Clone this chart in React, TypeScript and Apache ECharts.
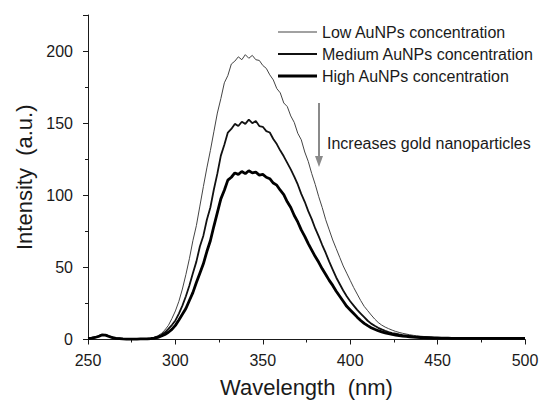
import React, { useEffect, useRef } from "react";
import * as echarts from "echarts";

// Sampling grid (nm), 250..500 every 2 nm
const wavelengths: number[] = Array.from({ length: 126 }, (_, i) => 250 + 2 * i);

const lowConc: number[] = [
  1.0, 1.2, 1.6, 2.4, 3.6, 3.4, 2.4, 1.5, 1.0, 0.8,
  0.6, 0.5, 0.5, 0.4, 0.5, 0.5, 0.6, 0.7, 1.0, 1.6,
  2.6, 4.2, 6.6, 9.8, 14.5, 19.8, 26.5, 35, 45, 56,
  68.5, 79, 92.5, 106, 119, 131, 144, 157, 167, 178,
  183, 191, 193, 196, 194, 197.5, 195, 197, 194, 193.5,
  190, 188, 183.5, 180, 174, 171, 164, 161.5, 155, 150.5,
  143, 138.5, 130, 123.5, 115, 107.5, 99, 91.5, 83, 76,
  69, 63, 57, 51, 46, 41, 36, 31.5, 27, 23,
  20, 17, 14.2, 11.8, 10, 8.6, 7.5, 6.5, 5.6, 4.9,
  4.3, 3.8, 3.3, 2.9, 2.6, 2.3, 2.1, 1.9, 1.7, 1.6,
  1.5, 1.4, 1.3, 1.2, 1.2, 1.1, 1.0, 1.0, 1.0, 1.0,
  1.0, 1.0, 1.0, 1.0, 1.0, 1.0, 1.0, 1.0, 1.0, 1.0,
  1.0, 1.0, 1.0, 1.0, 1.0, 1.0,
];

const mediumConc: number[] = [
  0.9, 1.1, 1.5, 2.3, 3.4, 3.2, 2.3, 1.4, 0.9, 0.7,
  0.5, 0.4, 0.4, 0.4, 0.4, 0.5, 0.5, 0.6, 0.8, 1.3,
  2.0, 3.3, 5.0, 7.3, 10, 13.2, 18, 23.5, 30, 37.5,
  46, 54, 64.5, 72, 83, 91.5, 104, 115, 127.5, 135,
  143.5, 146, 149.5, 148, 151, 149.5, 152.5, 150, 151.5, 148,
  147.5, 144.5, 143.5, 139, 135.5, 131, 127, 122.5, 118, 113,
  107.5, 101, 95.5, 89, 83.5, 77, 71.5, 65.5, 60, 54,
  48.5, 43, 38.5, 34, 30, 26.5, 23.5, 20.5, 18, 15.5,
  13, 11, 9.5, 8.1, 7, 6, 5.2, 4.5, 4, 3.5,
  3.1, 2.8, 2.5, 2.2, 2.0, 1.8, 1.7, 1.5, 1.4, 1.3,
  1.2, 1.1, 1.1, 1.0, 1.0, 1.0, 0.9, 0.9, 0.9, 0.9,
  0.9, 0.9, 0.9, 0.9, 0.9, 0.9, 0.9, 0.9, 0.9, 0.9,
  0.9, 0.9, 0.9, 0.9, 0.9, 0.9,
];

const highConc: number[] = [
  0.8, 1.0, 1.4, 2.1, 3.1, 3.0, 2.1, 1.3, 0.8, 0.6,
  0.4, 0.3, 0.3, 0.3, 0.3, 0.4, 0.4, 0.5, 0.6, 1.0,
  1.5, 2.4, 3.5, 5, 7, 9.8, 13.5, 17.5, 21.5, 27,
  32.5, 39.5, 46, 52.5, 61, 68.5, 78.5, 88, 97.5, 103.5,
  110.5, 112.5, 115.5, 114.5, 116.5, 115, 117, 115.5, 116, 114,
  114.5, 112.5, 111.5, 108.5, 107, 103.5, 100.5, 95.5, 91.5, 86,
  81.5, 76, 71.5, 66.5, 62, 57.5, 53.5, 49, 45, 41,
  37.5, 33.5, 30, 26.5, 23, 20.5, 18, 15.5, 13.2, 11.2,
  9.6, 8.2, 7.1, 6.1, 5.3, 4.6, 4.0, 3.5, 3.1, 2.7,
  2.4, 2.1, 1.9, 1.7, 1.5, 1.4, 1.3, 1.2, 1.1, 1.0,
  1.0, 0.9, 0.9, 0.9, 0.8, 0.8, 0.8, 0.8, 0.8, 0.8,
  0.8, 0.8, 0.8, 0.8, 0.8, 0.8, 0.8, 0.8, 0.8, 0.8,
  0.8, 0.8, 0.8, 0.8, 0.8, 0.8,
];

const seriesNames = [
  "Low AuNPs concentration",
  "Medium AuNPs concentration",
  "High AuNPs concentration",
];
const seriesColors = ["#444444", "#111111", "#000000"];
const seriesWidths = [1, 1.8, 2.8];

const FONT = "'Liberation Sans', Arial, Helvetica, sans-serif";
const INK = "#1a1a1a";

export default function App() {
  const ref = useRef<HTMLDivElement>(null);

  useEffect(() => {
    if (!ref.current) return;
    const chart = echarts.init(ref.current, undefined, { renderer: "svg" });
    const pair = (vals: number[]) => wavelengths.map((w, i) => [w, vals[i]]);
    const allVals = [lowConc, mediumConc, highConc];

    chart.setOption({
      animation: false,
      backgroundColor: "#ffffff",
      textStyle: { fontFamily: FONT },
      grid: {
        left: 88,
        right: 19,
        top: 15,
        bottom: 60.5,
        containLabel: false,
        outerBoundsMode: "none",
      },
      legend: {
        orient: "vertical",
        left: 278,
        top: 24,
        padding: 0,
        itemWidth: 39,
        itemHeight: 14,
        itemGap: 6,
        symbolKeepAspect: true,
        data: seriesNames.map((n, i) => ({
          name: n,
          icon: `path://M0,0H39V${seriesWidths[i]}H0Z`,
          itemStyle: { color: seriesColors[i], borderWidth: 0 },
        })),
        textStyle: { fontSize: 16, color: INK, fontFamily: FONT },
      },
      xAxis: [
        {
          type: "value",
          min: 250,
          max: 500,
          interval: 50,
          position: "bottom",
          name: "Wavelength  (nm)",
          nameLocation: "middle",
          nameGap: 37,
          nameTextStyle: { fontSize: 22, color: INK, fontFamily: FONT },
          axisLine: { show: true, onZero: false, lineStyle: { color: INK, width: 1 } },
          axisTick: { show: true, inside: false, length: 5, lineStyle: { color: INK } },
          axisLabel: { fontSize: 16, color: INK, margin: 13, fontFamily: FONT },
          splitLine: { show: false },
        },
        {
          type: "value",
          min: 250,
          max: 500,
          interval: 25,
          position: "bottom",
          axisLine: { show: false, onZero: false },
          axisTick: { show: true, inside: false, length: 3, lineStyle: { color: INK } },
          axisLabel: { show: false },
          splitLine: { show: false },
        },
      ],
      yAxis: [
        {
          type: "value",
          min: 0,
          max: 225,
          interval: 50,
          position: "left",
          name: "Intensity  (a.u.)",
          nameLocation: "middle",
          nameGap: 53,
          nameTextStyle: { fontSize: 22, color: INK, fontFamily: FONT },
          axisLine: { show: true, onZero: false, lineStyle: { color: INK, width: 1 } },
          axisTick: { show: true, inside: false, length: 5, lineStyle: { color: INK } },
          axisLabel: {
            fontSize: 16,
            color: INK,
            margin: 15,
            fontFamily: FONT,
            formatter: (v: number) => (v % 50 === 0 ? String(v) : ""),
          },
          splitLine: { show: false },
        },
        {
          type: "value",
          min: 0,
          max: 225,
          interval: 25,
          position: "left",
          axisLine: { show: false, onZero: false },
          axisTick: { show: true, inside: false, length: 3, lineStyle: { color: INK } },
          axisLabel: { show: false },
          splitLine: { show: false },
        },
      ],
      series: seriesNames.map((name, i) => ({
        type: "line",
        name,
        data: pair(allVals[i]),
        showSymbol: false,
        symbol: "none",
        xAxisIndex: 0,
        yAxisIndex: 0,
        lineStyle: { width: seriesWidths[i], color: seriesColors[i] },
        itemStyle: { color: seriesColors[i] },
      })),
      graphic: [
        {
          type: "line",
          shape: { x1: 319, y1: 103, x2: 319, y2: 158 },
          style: { stroke: "#8a8a8a", lineWidth: 2 },
        },
        {
          type: "polygon",
          shape: { points: [[315, 156], [323, 156], [319, 167]] },
          style: { fill: "#8a8a8a" },
        },
        {
          type: "text",
          x: 327,
          y: 143,
          style: {
            text: "Increases gold nanoparticles",
            font: `16px ${FONT}`,
            fill: INK,
            verticalAlign: "middle",
          },
        },
      ],
    });
    return () => chart.dispose();
  }, []);

  return (
    <div
      ref={ref}
      style={{ position: "fixed", left: 0, top: 0, width: 544, height: 400, background: "#fff" }}
    />
  );
}
